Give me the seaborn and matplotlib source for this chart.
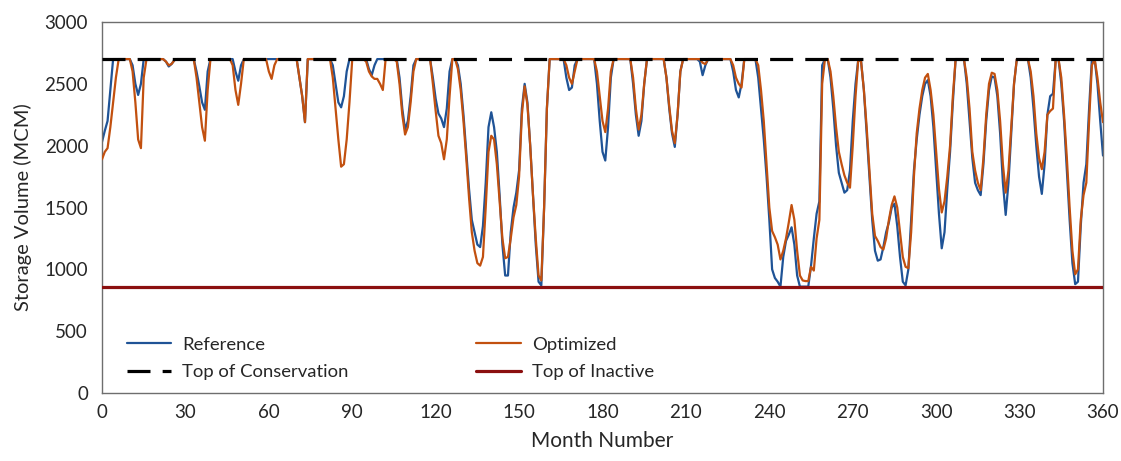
import numpy as np
import pandas as pd
import matplotlib
matplotlib.use("Agg")
import matplotlib.pyplot as plt
import seaborn as sns

# ---------------- data ----------------
months = list(range(0, 361))

reference = [
    2030, 2120, 2200, 2450, 2700, 2700, 2700, 2700, 2700, 2700,
    2700, 2650, 2500, 2410, 2500, 2700, 2700, 2700, 2700, 2700,
    2700, 2700, 2700, 2680, 2640, 2660, 2690, 2700, 2700, 2700,
    2700, 2700, 2700, 2700, 2600, 2480, 2350, 2290, 2600, 2700,
    2700, 2700, 2700, 2700, 2700, 2700, 2700, 2700, 2600, 2525,
    2650, 2700, 2700, 2700, 2700, 2700, 2700, 2700, 2700, 2700,
    2700, 2700, 2700, 2700, 2700, 2700, 2700, 2700, 2700, 2700,
    2700, 2550, 2400, 2190, 2700, 2700, 2700, 2700, 2700, 2700,
    2700, 2700, 2700, 2650, 2500, 2350, 2310, 2400, 2600, 2700,
    2700, 2700, 2700, 2700, 2700, 2700, 2620, 2570, 2650, 2700,
    2700, 2700, 2700, 2700, 2700, 2700, 2700, 2550, 2300, 2130,
    2200, 2400, 2650, 2700, 2700, 2700, 2700, 2700, 2700, 2550,
    2380, 2260, 2220, 2150, 2300, 2600, 2700, 2700, 2650, 2500,
    2250, 1950, 1650, 1400, 1300, 1200, 1180, 1350, 1700, 2150,
    2270, 2150, 1950, 1600, 1200, 950, 950, 1300, 1500, 1620,
    1800, 2300, 2500, 2350, 2000, 1600, 1200, 900, 870, 1500,
    2300, 2700, 2700, 2700, 2700, 2700, 2700, 2550, 2450, 2470,
    2650, 2700, 2700, 2700, 2700, 2700, 2700, 2700, 2500, 2200,
    1950, 1880, 2150, 2550, 2700, 2700, 2700, 2700, 2700, 2700,
    2700, 2500, 2250, 2080, 2200, 2500, 2700, 2700, 2700, 2700,
    2700, 2700, 2700, 2550, 2300, 2100, 1990, 2250, 2600, 2700,
    2700, 2700, 2700, 2700, 2700, 2680, 2570, 2650, 2700, 2700,
    2700, 2700, 2700, 2700, 2700, 2700, 2700, 2600, 2450, 2390,
    2500, 2700, 2700, 2700, 2700, 2700, 2550, 2300, 2050, 1750,
    1400, 1000, 930, 900, 860, 1100, 1230, 1280, 1340, 1200,
    950, 860, 860, 860, 860, 1030, 1250, 1450, 1550, 2650,
    2700, 2700, 2550, 2300, 2000, 1780, 1700, 1620, 1640, 1800,
    2200, 2500, 2700, 2680, 2450, 2100, 1750, 1400, 1150, 1070,
    1080, 1180, 1300, 1380, 1500, 1530, 1350, 1100, 900, 870,
    1000, 1400, 1800, 2050, 2250, 2400, 2500, 2530, 2400, 2150,
    1800, 1450, 1170, 1300, 1650, 1950, 2350, 2700, 2700, 2700,
    2700, 2500, 2200, 1900, 1700, 1640, 1600, 1850, 2200, 2450,
    2560, 2550, 2400, 2100, 1700, 1440, 1700, 2100, 2500, 2700,
    2700, 2700, 2700, 2700, 2550, 2300, 2000, 1750, 1610, 1850,
    2250, 2400, 2420, 2700, 2700, 2500, 2200, 1800, 1400, 1050,
    880, 900, 1350, 1700, 1850, 2300, 2700, 2700, 2500, 2200,
    1920,
]

optimized = [
    1890, 1950, 1980, 2150, 2350, 2550, 2700, 2700, 2700, 2700,
    2700, 2600, 2350, 2050, 1980, 2550, 2700, 2700, 2700, 2700,
    2700, 2700, 2700, 2680, 2650, 2660, 2690, 2700, 2700, 2700,
    2700, 2700, 2700, 2700, 2550, 2350, 2150, 2040, 2450, 2700,
    2700, 2700, 2700, 2700, 2700, 2700, 2700, 2650, 2450, 2330,
    2500, 2700, 2700, 2700, 2700, 2700, 2700, 2700, 2700, 2700,
    2600, 2540, 2650, 2700, 2700, 2700, 2700, 2700, 2700, 2700,
    2700, 2550, 2400, 2190, 2700, 2700, 2700, 2700, 2700, 2700,
    2700, 2700, 2700, 2550, 2300, 2050, 1830, 1850, 2050, 2350,
    2700, 2700, 2700, 2700, 2700, 2680, 2600, 2560, 2540, 2540,
    2500, 2450, 2700, 2700, 2700, 2700, 2680, 2500, 2250, 2090,
    2150, 2350, 2600, 2700, 2700, 2700, 2700, 2700, 2700, 2500,
    2280, 2080, 2020, 1890, 2050, 2400, 2700, 2700, 2620, 2450,
    2200, 1900, 1580, 1300, 1150, 1050, 1030, 1100, 1500, 1950,
    2080, 2050, 1850, 1550, 1250, 1090, 1100, 1250, 1420, 1520,
    1750, 2250, 2480, 2330, 2000, 1600, 1250, 950, 910, 1500,
    2300, 2700, 2700, 2700, 2700, 2700, 2700, 2650, 2550, 2500,
    2600, 2700, 2700, 2700, 2700, 2700, 2700, 2700, 2600, 2400,
    2200, 2110, 2300, 2600, 2700, 2700, 2700, 2700, 2700, 2700,
    2700, 2550, 2300, 2130, 2250, 2500, 2700, 2700, 2700, 2700,
    2700, 2700, 2700, 2550, 2320, 2120, 2020, 2250, 2600, 2700,
    2700, 2700, 2700, 2700, 2700, 2700, 2670, 2660, 2700, 2700,
    2700, 2700, 2700, 2700, 2700, 2700, 2700, 2650, 2550, 2500,
    2470, 2700, 2700, 2700, 2700, 2700, 2650, 2450, 2200, 1850,
    1500, 1310, 1260, 1200, 1080, 1150, 1250, 1380, 1520, 1400,
    1150, 950, 910, 905, 905, 1020, 990, 1250, 1400, 2500,
    2700, 2700, 2600, 2400, 2150, 1950, 1850, 1760, 1700, 1660,
    2000, 2400, 2700, 2680, 2450, 2150, 1800, 1450, 1270, 1230,
    1180, 1160, 1250, 1400, 1520, 1590, 1500, 1300, 1100, 1020,
    1010, 1300, 1750, 2100, 2300, 2450, 2550, 2580, 2450, 2250,
    1950, 1650, 1460, 1550, 1750, 2000, 2400, 2700, 2700, 2700,
    2700, 2550, 2300, 1950, 1800, 1700, 1640, 1900, 2250, 2500,
    2590, 2580, 2450, 2200, 1850, 1620, 1800, 2150, 2500, 2700,
    2700, 2700, 2700, 2700, 2600, 2400, 2100, 1900, 1810, 1950,
    2250, 2280, 2300, 2700, 2700, 2550, 2250, 1900, 1500, 1150,
    960, 1000, 1400, 1600, 1700, 2200, 2650, 2700, 2550, 2350,
    2190,
]

limit_months = [0, 360]
top_conservation = [2700, 2700]
top_inactive = [855, 855]

x_ticks = list(range(0, 361, 30))
y_ticks = list(range(0, 3001, 500))

series_labels = ["Reference", "Optimized", "Top of Conservation", "Top of Inactive"]
colors = ["#1f5396", "#c2500f", "#000000", "#8b0f0f"]

# ---------------- plot ----------------
sns.set_style("white")
plt.rcParams["font.family"] = ["Lato", "DejaVu Sans"]

fig = plt.figure(figsize=(11.21, 4.61), dpi=100)
ax = fig.add_axes([102 / 1121, 68 / 461, 1001 / 1121, 371 / 461])

df = pd.DataFrame({"month": months, "ref": reference, "opt": optimized})
lim = pd.DataFrame({"month": limit_months, "cons": top_conservation, "inact": top_inactive})

sns.lineplot(data=df, x="month", y="ref", ax=ax, color=colors[0], lw=1.6,
             label=series_labels[0], zorder=2)
sns.lineplot(data=df, x="month", y="opt", ax=ax, color=colors[1], lw=1.6,
             label=series_labels[1], zorder=3)
sns.lineplot(data=lim, x="month", y="cons", ax=ax, color=colors[2], lw=2.3,
             linestyle=(0, (7.2, 3.8)), label=series_labels[2], zorder=4)
sns.lineplot(data=lim, x="month", y="inact", ax=ax, color=colors[3], lw=2.3,
             label=series_labels[3], zorder=4)

ax.set_xlim(0, 360)
ax.set_ylim(0, 3000)
ax.set_xticks(x_ticks)
ax.set_yticks(y_ticks)
ax.tick_params(axis="both", length=0, labelsize=13.5, colors="#262626")
ax.tick_params(axis="y", pad=10)
ax.tick_params(axis="x", pad=8)
ax.set_xlabel("Month Number", fontsize=15, color="#262626", labelpad=7)
ax.set_ylabel("Storage Volume (MCM)", fontsize=14.5, color="#262626", labelpad=9)

for s in ax.spines.values():
    s.set_visible(True)
    s.set_color("#6e6e6e")
    s.set_linewidth(1.0)

handles, labels = ax.get_legend_handles_labels()
hmap = dict(zip(labels, handles))
order = ["Reference", "Top of Conservation", "Optimized", "Top of Inactive"]
ax.legend([hmap[k] for k in order], order, ncol=2, loc="lower left",
          bbox_to_anchor=(0.025, 0.035), frameon=False, fontsize=13.3,
          handlelength=2.4, handletextpad=0.6, columnspacing=6.9,
          labelspacing=0.6, borderaxespad=0, borderpad=0)

fig.savefig("out.png", dpi=100)
